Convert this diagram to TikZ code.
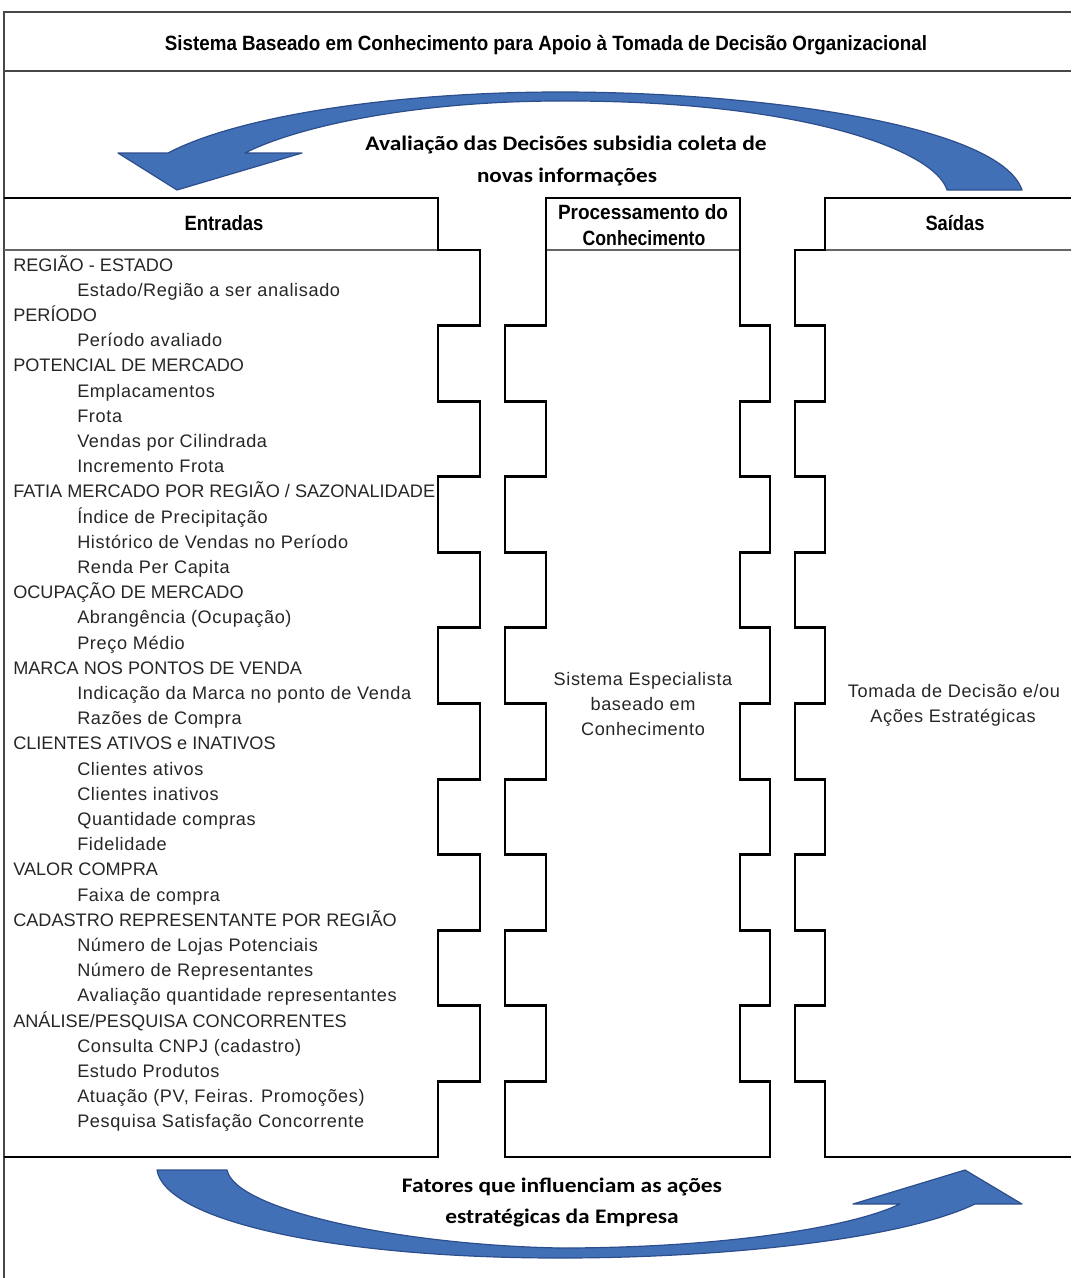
\documentclass[tikz,border=0pt]{standalone}
\usepackage{fontspec}
\setmainfont{Liberation Sans}
\newfontfamily\calfont{Carlito}
\newfontfamily\trackfont[LetterSpace=3.5]{Liberation Sans}
\usepackage{graphicx}
\definecolor{arrowfill}{RGB}{66,112,182}
\definecolor{arrowedge}{RGB}{45,78,140}
\newcommand\lrow[3]{\node[listtxt] (l#1) at (#2,{271+25.2*(#1-1)}) {#3};}
\newcommand\srow[3]{\node[listtxt,font=\trackfont\fontsize{13.6pt}{15pt}\selectfont] (l#1) at (#2,{271+25.2*(#1-1)}) {#3};}
\begin{document}
\begin{tikzpicture}[x=0.75pt,y=-0.75pt,
  outerline/.style={draw=black!72,line width=1.5pt},
  hline/.style={draw=black!60,line width=0.8pt},
  piece/.style={draw=black,line width=2.2pt,line join=miter},
  listtxt/.style={anchor=base west,inner sep=0pt,font=\fontsize{13.6pt}{15pt}\selectfont,text=black!85},
  plaintxt/.style={anchor=base,inner sep=0pt,font=\trackfont\fontsize{13.6pt}{15pt}\selectfont,text=black!85},
  hdr/.style={anchor=base,inner sep=0pt,font=\fontsize{15.5pt}{17pt}\selectfont\bfseries},
  arrtxt/.style={anchor=base,inner sep=0pt,font=\calfont\fontsize{15.5pt}{18pt}\selectfont\bfseries},
  blockarrow/.style={fill=arrowfill,draw=arrowedge,line width=0.9pt,line join=round}]

\useasboundingbox (0,0) rectangle (1071,1278);

% outer frame
\draw[outerline] (1071,12) -- (4,12) -- (4,1278);
\draw[outerline] (4,71) -- (1071,71);

% thin header bottoms
\draw[hline] (4,250) -- (438,250);
\draw[hline] (546,250) -- (740,250);
\draw[hline] (825,250) -- (1071,250);

% left column
\draw[piece] (4,198) -- (438,198) -- (438,250) -- (480,250) -- (480,325.6) -- (438,325.6)
  -- (438,401.2) -- (480,401.2) -- (480,476.7) -- (438,476.7) -- (438,552.3) -- (480,552.3)
  -- (480,627.9) -- (438,627.9) -- (438,703.5) -- (480,703.5) -- (480,779.1) -- (438,779.1)
  -- (438,854.7) -- (480,854.7) -- (480,930.2) -- (438,930.2) -- (438,1005.8) -- (480,1005.8)
  -- (480,1081.4) -- (438,1081.4) -- (438,1157) -- (4,1157);

% middle column
\draw[piece] (505,1157) -- (505,1081.4) -- (546,1081.4) -- (546,1005.8) -- (505,1005.8)
  -- (505,930.2) -- (546,930.2) -- (546,854.7) -- (505,854.7) -- (505,779.1) -- (546,779.1)
  -- (546,703.5) -- (505,703.5) -- (505,627.9) -- (546,627.9) -- (546,552.3) -- (505,552.3)
  -- (505,476.7) -- (546,476.7) -- (546,401.2) -- (505,401.2) -- (505,325.6) -- (546,325.6)
  -- (546,198) -- (740,198) -- (740,325.6) -- (770,325.6) -- (770,401.2) -- (740,401.2)
  -- (740,476.7) -- (770,476.7) -- (770,552.3) -- (740,552.3) -- (740,627.9) -- (770,627.9)
  -- (770,703.5) -- (740,703.5) -- (740,779.1) -- (770,779.1) -- (770,854.7) -- (740,854.7)
  -- (740,930.2) -- (770,930.2) -- (770,1005.8) -- (740,1005.8) -- (740,1081.4) -- (770,1081.4)
  -- (770,1157) -- cycle;

% right column
\draw[piece] (1071,198) -- (825,198) -- (825,250) -- (795,250) -- (795,325.6) -- (825,325.6)
  -- (825,401.2) -- (795,401.2) -- (795,476.7) -- (825,476.7) -- (825,552.3) -- (795,552.3)
  -- (795,627.9) -- (825,627.9) -- (825,703.5) -- (795,703.5) -- (795,779.1) -- (825,779.1)
  -- (825,854.7) -- (795,854.7) -- (795,930.2) -- (825,930.2) -- (825,1005.8) -- (795,1005.8)
  -- (795,1081.4) -- (825,1081.4) -- (825,1157) -- (1071,1157);

% top curved arrow
\draw[blockarrow] (1022,190) -- (947,190)
  .. controls (935,150) and (800,100) .. (560,101)
  .. controls (420,101) and (300,125) .. (245,153)
  -- (302,153) -- (177,190) -- (118,153) -- (168,153)
  .. controls (240,115) and (400,92) .. (560,92)
  .. controls (760,92) and (1000,125) .. (1022,190) -- cycle;

% bottom curved arrow
\draw[blockarrow] (157,1170) -- (227,1170)
  .. controls (235,1210) and (400,1245) .. (560,1248)
  .. controls (720,1248) and (850,1228) .. (900,1204)
  -- (853,1204) -- (965,1170) -- (1022,1204) -- (975,1204)
  .. controls (900,1240) and (720,1258) .. (560,1258)
  .. controls (330,1258) and (165,1220) .. (157,1170) -- cycle;

% title and headers
\node[hdr] (title) at (546,50) {\resizebox{571.5pt}{\height}{Sistema Baseado em Conhecimento para Apoio à Tomada de Decisão Organizacional}};
\node[hdr] (entradas) at (224,230) {\resizebox{59.25pt}{\height}{Entradas}};
\node[hdr] (proc1) at (643,219) {\resizebox{127.5pt}{\height}{Processamento do}};
\node[hdr] (proc2) at (644,245) {\resizebox{92pt}{\height}{Conhecimento}};
\node[hdr] (saidas) at (955,230) {\resizebox{44.25pt}{\height}{Saídas}};

% arrow texts
\node[arrtxt] (aval1) at (566,150) {\resizebox{300.75pt}{\height}{Avaliação das Decisões subsidia coleta de}};
\node[arrtxt] (aval2) at (567,182) {\resizebox{135pt}{\height}{novas informações}};
\node[arrtxt] (fat1) at (562,1192) {\resizebox{240pt}{\height}{Fatores que influenciam as ações}};
\node[arrtxt] (fat2) at (562,1223) {\resizebox{175pt}{\height}{estratégicas da Empresa}};

% middle and right texts
\node[plaintxt] (mid1) at (643,685) {Sistema Especialista};
\node[plaintxt] (mid2) at (643,710) {baseado em};
\node[plaintxt] (mid3) at (643,735) {Conhecimento};
\node[plaintxt] (out1) at (954,697) {Tomada de Decisão e/ou};
\node[plaintxt] (out2) at (953,722) {Ações Estratégicas};

% input list
\lrow{1}{13}{REGIÃO - ESTADO}
\srow{2}{77}{Estado/Região a ser analisado}
\lrow{3}{13}{PERÍODO}
\srow{4}{77}{Período avaliado}
\lrow{5}{13}{POTENCIAL DE MERCADO}
\srow{6}{77}{Emplacamentos}
\srow{7}{77}{Frota}
\srow{8}{77}{Vendas por Cilindrada}
\srow{9}{77}{Incremento Frota}
\lrow{10}{13}{FATIA MERCADO POR REGIÃO / SAZONALIDADE}
\srow{11}{77}{Índice de Precipitação}
\srow{12}{77}{Histórico de Vendas no Período}
\srow{13}{77}{Renda Per Capita}
\lrow{14}{13}{OCUPAÇÃO DE MERCADO}
\srow{15}{77}{Abrangência (Ocupação)}
\srow{16}{77}{Preço Médio}
\lrow{17}{13}{MARCA NOS PONTOS DE VENDA}
\srow{18}{77}{Indicação da Marca no ponto de Venda}
\srow{19}{77}{Razões de Compra}
\lrow{20}{13}{CLIENTES ATIVOS e INATIVOS}
\srow{21}{77}{Clientes ativos}
\srow{22}{77}{Clientes inativos}
\srow{23}{77}{Quantidade compras}
\srow{24}{77}{Fidelidade}
\lrow{25}{13}{VALOR COMPRA}
\srow{26}{77}{Faixa de compra}
\lrow{27}{13}{CADASTRO REPRESENTANTE POR REGIÃO}
\srow{28}{77}{Número de Lojas Potenciais}
\srow{29}{77}{Número de Representantes}
\srow{30}{77}{Avaliação quantidade representantes}
\lrow{31}{13}{ANÁLISE/PESQUISA CONCORRENTES}
\srow{32}{77}{Consulta CNPJ (cadastro)}
\srow{33}{77}{Estudo Produtos}
\srow{34}{77}{Atuação (PV, Feiras. Promoções)}
\srow{35}{77}{Pesquisa Satisfação Concorrente}
\end{tikzpicture}
\end{document}
